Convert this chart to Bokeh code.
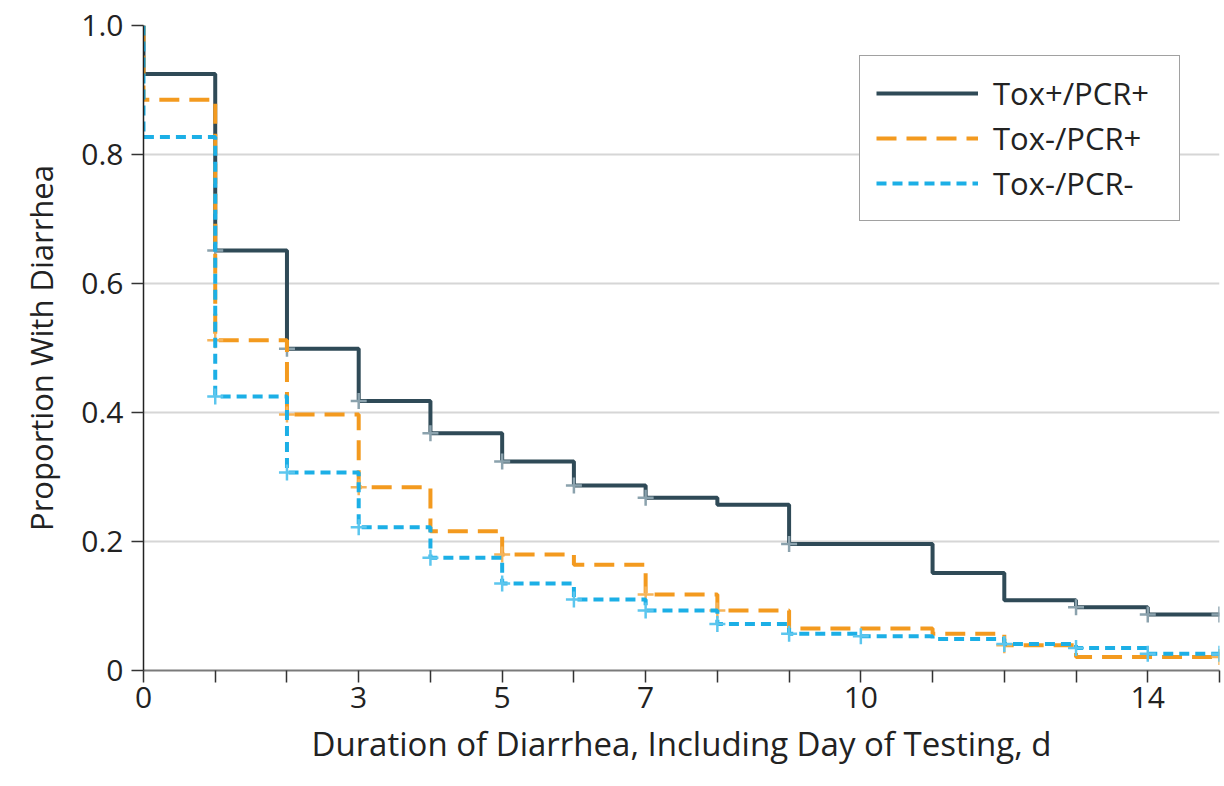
from bokeh.plotting import figure
from bokeh.models import FixedTicker, Legend, LegendItem, Range1d
from bokeh.embed import file_html
from bokeh.resources import INLINE

# Kaplan-Meier style estimates: proportion still with diarrhea from each day on
days = [0, 1, 2, 3, 4, 5, 6, 7, 8, 9, 10, 11, 12, 13, 14]
end_day = 15
tox_pos_pcr_pos = [0.925, 0.651, 0.499, 0.418, 0.368, 0.324, 0.287, 0.268, 0.257, 0.196, 0.196, 0.151, 0.109, 0.098, 0.087]
tox_neg_pcr_pos = [0.885, 0.512, 0.397, 0.284, 0.216, 0.180, 0.164, 0.118, 0.093, 0.065, 0.065, 0.057, 0.039, 0.021, 0.021]
tox_neg_pcr_neg = [0.827, 0.425, 0.307, 0.222, 0.175, 0.135, 0.110, 0.093, 0.072, 0.057, 0.053, 0.049, 0.041, 0.035, 0.026]

# Days with censored observations for each group
censor_pos_pos = [1, 2, 3, 4, 5, 6, 7, 9, 13, 14, 15]
censor_neg_pos = [1, 2, 3, 5, 7, 8, 12, 15]
censor_neg_neg = [1, 2, 3, 4, 5, 6, 7, 8, 9, 10, 12, 13, 14, 15]

series_names = ["Tox+/PCR+", "Tox-/PCR+", "Tox-/PCR-"]

x_tick_values = list(range(0, 16))
x_tick_labels = {0: "0", 3: "3", 5: "5", 7: "7", 10: "10", 14: "14"}
y_tick_values = [0, 0.2, 0.4, 0.6, 0.8, 1.0]
y_tick_labels = {0: "0", 0.2: "0.2", 0.4: "0.4", 0.6: "0.6", 0.8: "0.8", 1: "1.0"}

FONT = "Open Sans"

p = figure(
    width=1224, height=786,
    x_range=Range1d(0, 15), y_range=Range1d(0, 1.0),
    output_backend="svg", toolbar_location=None,
    min_border_left=143, min_border_right=5,
    min_border_top=25, min_border_bottom=116,
)
p.outline_line_color = None
p.background_fill_color = "white"
p.border_fill_color = "white"

# grid
p.xgrid.grid_line_color = None
p.ygrid.ticker = FixedTicker(ticks=[0.2, 0.4, 0.6, 0.8, 1.0])
p.ygrid.grid_line_color = "#d6d6d6"
p.ygrid.grid_line_width = 2

# axes
p.xaxis.ticker = FixedTicker(ticks=x_tick_values)
p.xaxis.major_label_overrides = {d: x_tick_labels.get(d, "") for d in x_tick_values}
p.yaxis.ticker = FixedTicker(ticks=y_tick_values)
p.yaxis.major_label_overrides = y_tick_labels
for ax in (p.xaxis, p.yaxis):
    ax.minor_tick_line_color = None
    ax.major_tick_in = 0
    ax.major_tick_out = 12
    ax.major_tick_line_color = "#333333"
    ax.major_tick_line_width = 1.5
    ax.major_label_text_font = FONT
    ax.major_label_text_font_size = "30px"
    ax.major_label_text_color = "#222222"
    ax.axis_label_text_font = FONT
    ax.axis_label_text_font_style = "normal"
    ax.axis_label_text_color = "#222222"
p.xaxis.axis_label_text_font_size = "33px"
p.yaxis.axis_label_text_font_size = "31px"
p.xaxis.axis_line_color = "#7a7a7a"
p.xaxis.axis_line_width = 2
p.yaxis.axis_line_color = "#222222"
p.yaxis.axis_line_width = 1.5
p.xaxis.axis_label = "Duration of Diarrhea, Including Day of Testing, d"
p.yaxis.axis_label = "Proportion With Diarrhea"
p.xaxis.major_label_standoff = 4
p.yaxis.major_label_standoff = 8
p.xaxis.axis_label_standoff = 10
p.yaxis.axis_label_standoff = 16

colors = ["#2f4a57", "#f39a1f", "#1cafe6"]
mark_colors = ["#8ba2ad", "#f6b45a", "#5cc6ee"]
dashes = ["solid", "20 10", "10 6"]
values = [tox_pos_pcr_pos, tox_neg_pcr_pos, tox_neg_pcr_neg]
censors = [censor_pos_pos, censor_neg_pos, censor_neg_neg]

renderers = []
for vals, cens, col, mcol, dash in zip(values, censors, colors, mark_colors, dashes):
    xs = [0] + days + [end_day]
    ys = [1.0] + vals + [vals[-1]]
    r = p.step(xs, ys, mode="after", line_color=col, line_width=4, line_dash=dash)
    renderers.append(r)
    cy = [vals[min(d, len(vals) - 1)] for d in cens]
    p.scatter(cens, cy, marker="cross", size=16, line_color=mcol, line_width=2.5)

legend = Legend(
    items=[LegendItem(label=n, renderers=[r]) for n, r in zip(series_names, renderers)],
    location=(716, 449),
    label_text_font=FONT, label_text_font_size="31px", label_text_color="#222222",
    glyph_width=102, glyph_height=30, label_standoff=15, label_width=170,
    spacing=3, padding=16, margin=0,
    border_line_color="#444444", border_line_width=1.5,
    background_fill_color="white", background_fill_alpha=1.0,
)
p.add_layout(legend, "center")

open("out.html", "w").write(file_html(p, INLINE))
